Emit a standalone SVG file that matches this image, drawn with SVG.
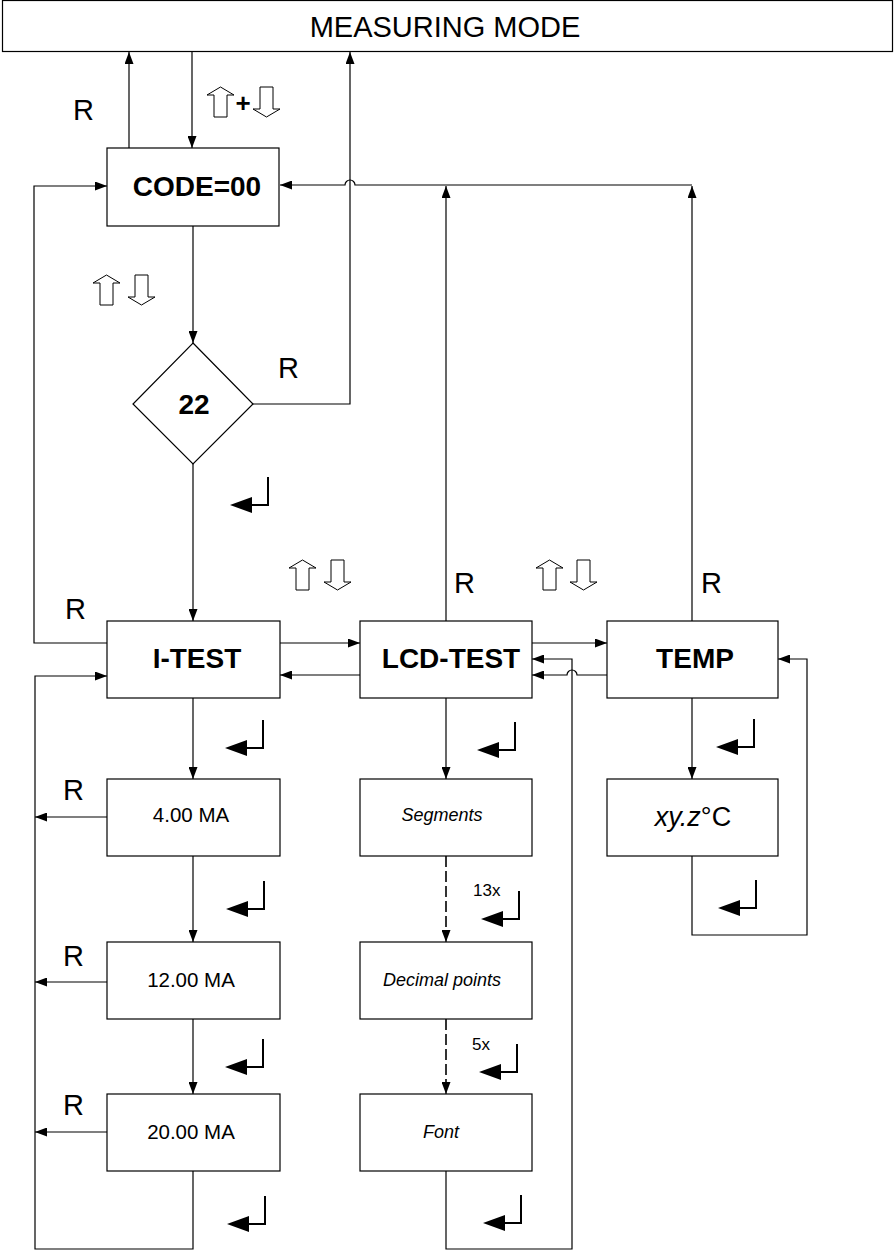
<svg xmlns="http://www.w3.org/2000/svg" xmlns:xlink="http://www.w3.org/1999/xlink" width="895" height="1252" viewBox="0 0 895 1252">
<style>
  .box{fill:#fff;stroke:#000;stroke-width:1.2}
  .ln{fill:none;stroke:#000;stroke-width:1.2}
  .dash{fill:none;stroke:#000;stroke-width:1.6;stroke-dasharray:11,4}
  .t{font-family:"Liberation Sans",Arial,sans-serif;fill:#000}
  .b{font-weight:bold;font-size:28px;text-anchor:middle}
  .r{font-size:29px}
  .m{font-size:20.5px;text-anchor:middle}
  .i{font-size:18px;font-style:italic;text-anchor:middle}
  .hol{fill:#fff;stroke:#000;stroke-width:1}
</style>
<defs>
  <marker id="ah" markerWidth="12" markerHeight="9" refX="12" refY="4.5" orient="auto" markerUnits="userSpaceOnUse">
    <path d="M0,0 L12,4.5 L0,9 z" fill="#000"/>
  </marker>
  <g id="enter">
    <path d="M0,-28 V0 H-17" fill="none" stroke="#000" stroke-width="2"/>
    <polygon points="-16,-8 -16,8 -38,0" fill="#000"/>
  </g>
  <polygon id="up" points="13.5,0 27,8 20,8 20,30 7,30 7,8 0,8" class="hol"/>
  <polygon id="dn" points="13.5,30 27,22 20,22 20,0 7,0 7,22 0,22" class="hol"/>
</defs>

<g id="measuring-mode">
  <rect class="box" x="2.5" y="0.5" width="890" height="51"/>
  <text class="t" x="445" y="37" font-size="29" text-anchor="middle">MEASURING MODE</text>
</g>

<g id="code">
  <rect class="box" x="107" y="148" width="172" height="78"/>
  <text class="t b" x="197" y="196">CODE=00</text>
</g>

<g id="diamond">
  <polygon class="box" points="193,343 253,404 193,464 133,404"/>
  <text class="t b" x="194" y="414">22</text>
</g>

<g id="i-test">
  <rect class="box" x="107" y="621" width="173" height="77"/>
  <text class="t b" x="197" y="668">I-TEST</text>
</g>
<g id="lcd-test">
  <rect class="box" x="360" y="621" width="172" height="77"/>
  <text class="t b" x="451" y="668">LCD-TEST</text>
</g>
<g id="temp">
  <rect class="box" x="607" y="621" width="171" height="77"/>
  <text class="t b" x="695" y="668">TEMP</text>
</g>

<g id="ma4">
  <rect class="box" x="107" y="779" width="173" height="77"/>
  <text class="t m" x="191" y="822">4.00 MA</text>
</g>
<g id="ma12">
  <rect class="box" x="107" y="942" width="173" height="77"/>
  <text class="t m" x="191" y="987">12.00 MA</text>
</g>
<g id="ma20">
  <rect class="box" x="107" y="1094" width="173" height="77"/>
  <text class="t m" x="191" y="1139">20.00 MA</text>
</g>

<g id="segments">
  <rect class="box" x="360" y="779" width="172" height="77"/>
  <text class="t i" x="442" y="821">Segments</text>
</g>
<g id="decimal">
  <rect class="box" x="360" y="942" width="172" height="77"/>
  <text class="t i" x="442" y="986">Decimal points</text>
</g>
<g id="font">
  <rect class="box" x="360" y="1094" width="172" height="77"/>
  <text class="t i" x="441" y="1138">Font</text>
</g>

<g id="xyz">
  <rect class="box" x="607" y="779" width="171" height="77"/>
  <text class="t" x="693" y="826" font-size="27" text-anchor="middle"><tspan font-style="italic">xy.z</tspan>°C</text>
</g>

<g id="connectors">
  <path class="ln" d="M129,148 V52" marker-end="url(#ah)"/>
  <path class="ln" d="M192,52 V148" marker-end="url(#ah)"/>
  <path class="ln" d="M193,226 V343" marker-end="url(#ah)"/>
  <path class="ln" d="M253,404 H350 V52" marker-end="url(#ah)"/>
  <path class="ln" d="M193,464 V621" marker-end="url(#ah)"/>
  <path class="ln" d="M107,643 H34 V186 H107" marker-end="url(#ah)"/>
  <path class="ln" d="M446,621 V186" marker-end="url(#ah)"/>
  <path class="ln" d="M692,621 V186" marker-end="url(#ah)"/>
  <path class="ln" d="M692,185 H355 A5,5 0 0 0 345,185 H280" marker-end="url(#ah)"/>
  <path class="ln" d="M280,643 H360" marker-end="url(#ah)"/>
  <path class="ln" d="M360,675 H280" marker-end="url(#ah)"/>
  <path class="ln" d="M532,643 H607" marker-end="url(#ah)"/>
  <path class="ln" d="M607,675 H577 A5,5 0 0 0 567,675 H532" marker-end="url(#ah)"/>
  <path class="ln" d="M193,698 V779" marker-end="url(#ah)"/>
  <path class="ln" d="M193,856 V942" marker-end="url(#ah)"/>
  <path class="ln" d="M193,1019 V1094" marker-end="url(#ah)"/>
  <path class="ln" d="M107,817 H35" marker-end="url(#ah)"/>
  <path class="ln" d="M107,982 H35" marker-end="url(#ah)"/>
  <path class="ln" d="M107,1132 H35" marker-end="url(#ah)"/>
  <path class="ln" d="M193,1171 V1249 H35 V676 H107" marker-end="url(#ah)"/>
  <path class="ln" d="M446,698 V779" marker-end="url(#ah)"/>
  <path class="dash" d="M446,856 V940"/>
  <path class="ln" d="M446,930 V942" marker-end="url(#ah)"/>
  <path class="dash" d="M446,1019 V1092"/>
  <path class="ln" d="M446,1082 V1094" marker-end="url(#ah)"/>
  <path class="ln" d="M446,1171 V1249 H572 V659 H532" marker-end="url(#ah)"/>
  <path class="ln" d="M692,698 V779" marker-end="url(#ah)"/>
  <path class="ln" d="M692,856 V935 H807 V659 H778" marker-end="url(#ah)"/>
</g>

<g id="labels">
  <text class="t r" x="73" y="120">R</text>
  <text class="t r" x="278" y="378">R</text>
  <text class="t r" x="65" y="619">R</text>
  <text class="t r" x="454" y="593">R</text>
  <text class="t r" x="701" y="593">R</text>
  <text class="t r" x="63" y="800">R</text>
  <text class="t r" x="63" y="966">R</text>
  <text class="t r" x="63" y="1115">R</text>
  <text class="t" x="473" y="896" font-size="17">13x</text>
  <text class="t" x="472" y="1050" font-size="17">5x</text>
  <text class="t" x="243" y="112" font-size="26" font-weight="bold" text-anchor="middle">+</text>
</g>

<g id="keys">
  <use xlink:href="#up" x="207" y="87"/>
  <use xlink:href="#dn" x="253" y="87"/>
  <use xlink:href="#up" x="93" y="275"/>
  <use xlink:href="#dn" x="128" y="275"/>
  <use xlink:href="#up" x="289" y="560"/>
  <use xlink:href="#dn" x="324" y="560"/>
  <use xlink:href="#up" x="536" y="560"/>
  <use xlink:href="#dn" x="570" y="560"/>
  <use xlink:href="#enter" x="268" y="505"/>
  <use xlink:href="#enter" x="263" y="748"/>
  <use xlink:href="#enter" x="264" y="909"/>
  <use xlink:href="#enter" x="263" y="1067"/>
  <use xlink:href="#enter" x="265" y="1224"/>
  <use xlink:href="#enter" x="515" y="750"/>
  <use xlink:href="#enter" x="519" y="919"/>
  <use xlink:href="#enter" x="517" y="1072"/>
  <use xlink:href="#enter" x="521" y="1223"/>
  <use xlink:href="#enter" x="754" y="747"/>
  <use xlink:href="#enter" x="756" y="908"/>
</g>
</svg>
